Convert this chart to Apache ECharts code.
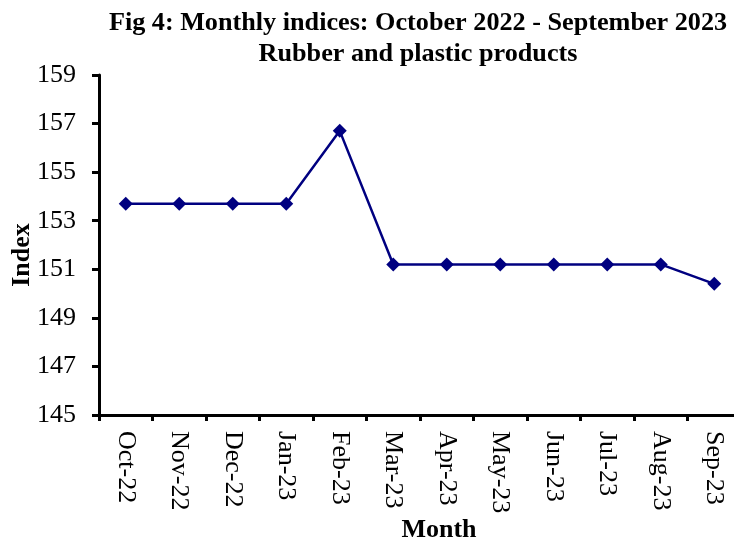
<!DOCTYPE html>
<html>
<head>
<meta charset="utf-8">
<script src="https://cdn.jsdelivr.net/npm/echarts@6/dist/echarts.min.js"></script>
<style>html,body{margin:0;padding:0;background:#fff;}#c{width:734px;height:545px;}</style>
</head>
<body>
<div id="c"></div>
<script>
const months = ['Oct-22','Nov-22','Dec-22','Jan-23','Feb-23','Mar-23','Apr-23','May-23','Jun-23','Jul-23','Aug-23','Sep-23'];
const indexValues = [153.7,153.7,153.7,153.7,156.7,151.2,151.2,151.2,151.2,151.2,151.2,150.4];
const titleLines = ['Fig 4: Monthly indices: October 2022 - September 2023','Rubber and plastic products'];
const yMin = 145, yMax = 159, yStep = 2;

const font = '"Liberation Serif","Times New Roman",serif';
const chart = echarts.init(document.getElementById('c'), null, {renderer:'canvas'});
chart.setOption({
  animation:false,
  backgroundColor:'#fff',
  title:{
    text: titleLines.join('\n'),
    left: 413, top: 3, textAlign:'center',
    textStyle:{fontFamily:font,fontWeight:'bold',fontSize:26.2,color:'#000',lineHeight:31}
  },
  grid:{left:99,top:75,width:642,height:340,containLabel:false,outerBoundsMode:'none'},
  xAxis:{
    type:'category', data:months, boundaryGap:true,
    name:'Month', nameLocation:'middle', nameGap:102, nameMoveOverlap:false,
    nameTextStyle:{fontFamily:font,fontWeight:'bold',fontSize:26,color:'#000',padding:[0,0,0,38]},
    axisLine:{lineStyle:{color:'#000',width:3}},
    axisTick:{show:true,length:6,lineStyle:{color:'#000',width:3},alignWithLabel:false},
    axisLabel:{rotate:-90,fontFamily:font,fontSize:26,color:'#000',margin:16,interval:0}
  },
  yAxis:{
    type:'value', min:yMin, max:yMax, interval:yStep,
    name:'Index', nameLocation:'middle', nameGap:64, nameMoveOverlap:false,
    nameTextStyle:{fontFamily:font,fontWeight:'bold',fontSize:26,color:'#000',padding:[0,20,0,0]},
    axisLine:{show:true,lineStyle:{color:'#000',width:3}},
    axisTick:{show:true,length:7,lineStyle:{color:'#000',width:3}},
    axisLabel:{fontFamily:font,fontSize:26,color:'#000',margin:23},
    splitLine:{show:false}
  },
  series:[{
    type:'line', data:indexValues,
    symbol:'diamond', symbolSize:14,
    lineStyle:{color:'#000080',width:2.5},
    itemStyle:{color:'#000080'}
  }]
});
</script>
</body>
</html>
